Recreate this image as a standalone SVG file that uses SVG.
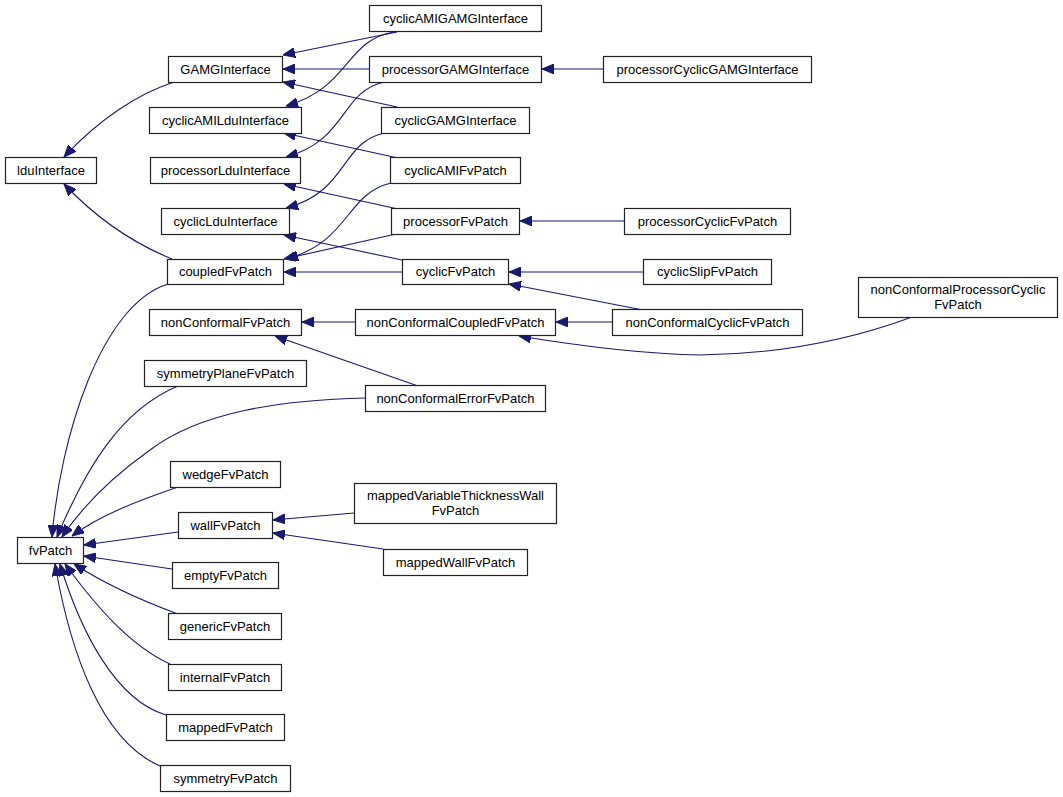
<svg xmlns="http://www.w3.org/2000/svg" width="1063" height="797" viewBox="0 0 1063 797">
<style>
.n rect{fill:#fff;stroke:#222;stroke-width:1.2}
.n text{font-family:"Liberation Sans",Arial,sans-serif;font-size:13px;fill:#000;text-anchor:middle}
.e path{fill:none;stroke:#191970;stroke-width:1.1;marker-end:url(#ah)}
</style>
<defs>
<marker id="ah" viewBox="0 0 12 10" refX="12" refY="5" markerWidth="12" markerHeight="10" markerUnits="userSpaceOnUse" orient="auto">
<path d="M0,0 L12,5 L0,10 z" fill="#191970" stroke="#191970"/>
</marker>
</defs>
<rect width="1063" height="797" fill="#fff"/>
<g id="edges" class="e">
<path d="M174,82 C140,93 100,118 64,157"/>
<path d="M172,259 C140,246 100,222 64,184"/>
<path d="M397,32 L283,55"/>
<path d="M394,32 C345,40 350,88 286,106"/>
<path d="M369,69 L283,69"/>
<path d="M384,82 C340,92 348,140 286,157"/>
<path d="M397,107 L283,82"/>
<path d="M384,133 C340,143 348,192 286,208"/>
<path d="M398,158 L284,133"/>
<path d="M391,183 C345,194 350,242 286,259"/>
<path d="M398,209 L284,184"/>
<path d="M396,234 L284,259"/>
<path d="M402,260 L284,235"/>
<path d="M402,272 L284,272"/>
<path d="M603,69 L542,69"/>
<path d="M624,221 L520,221"/>
<path d="M643,272 L509,272"/>
<path d="M643,310 L509,284"/>
<path d="M612,322 L556,322"/>
<path d="M355,322 L302,322"/>
<path d="M418,386 L275,336"/>
<path d="M365,398 C280,400 200,412 150,450 C105,482 80,510 62,537"/>
<path d="M912,317 C850,340 780,354 700,355 C640,354 580,346 519,336"/>
<path d="M354,513 L273,520"/>
<path d="M383,549 L273,533"/>
<path d="M168,284 C100,305 60,440 52,537"/>
<path d="M178,386 C120,410 85,470 57,537"/>
<path d="M178,487 C140,500 100,515 72,536"/>
<path d="M178,532 L84,545"/>
<path d="M172,569 L84,556"/>
<path d="M178,614 C140,600 105,584 74,564"/>
<path d="M170,664 C130,646 95,605 65,564"/>
<path d="M166,715 C115,700 80,630 60,564"/>
<path d="M160,766 C100,740 70,650 55,564"/>
</g>
<g id="lduInterface" class="n"><rect x="5.5" y="157.5" width="91" height="26"/><text x="51" y="175">lduInterface</text></g>
<g id="GAMGInterface" class="n"><rect x="168.5" y="56.5" width="114" height="26"/><text x="225.5" y="74">GAMGInterface</text></g>
<g id="cyclicAMILduInterface" class="n"><rect x="149.5" y="107.5" width="152" height="26"/><text x="225.5" y="125">cyclicAMILduInterface</text></g>
<g id="processorLduInterface" class="n"><rect x="150.5" y="157.5" width="150" height="26"/><text x="225.5" y="175">processorLduInterface</text></g>
<g id="cyclicLduInterface" class="n"><rect x="161.5" y="208.5" width="128" height="26"/><text x="225.5" y="226">cyclicLduInterface</text></g>
<g id="coupledFvPatch" class="n"><rect x="167.5" y="259.5" width="116" height="25"/><text x="225.5" y="276">coupledFvPatch</text></g>
<g id="nonConformalFvPatch" class="n"><rect x="149.5" y="309.5" width="152" height="26"/><text x="225.5" y="327">nonConformalFvPatch</text></g>
<g id="symmetryPlaneFvPatch" class="n"><rect x="144.5" y="360.5" width="162" height="26"/><text x="225.5" y="378">symmetryPlaneFvPatch</text></g>
<g id="wedgeFvPatch" class="n"><rect x="170.5" y="461.5" width="110" height="26"/><text x="225.5" y="479">wedgeFvPatch</text></g>
<g id="wallFvPatch" class="n"><rect x="178.5" y="512.5" width="94" height="26"/><text x="225.5" y="530">wallFvPatch</text></g>
<g id="fvPatch" class="n"><rect x="17.5" y="537.5" width="66" height="26"/><text x="50.5" y="555">fvPatch</text></g>
<g id="emptyFvPatch" class="n"><rect x="172.5" y="562.5" width="106" height="26"/><text x="225.5" y="580">emptyFvPatch</text></g>
<g id="genericFvPatch" class="n"><rect x="168.5" y="613.5" width="113" height="26"/><text x="225" y="631">genericFvPatch</text></g>
<g id="internalFvPatch" class="n"><rect x="168.5" y="664.5" width="113" height="26"/><text x="225" y="682">internalFvPatch</text></g>
<g id="mappedFvPatch" class="n"><rect x="166.5" y="714.5" width="118" height="26"/><text x="225.5" y="732">mappedFvPatch</text></g>
<g id="symmetryFvPatch" class="n"><rect x="160.5" y="765.5" width="130" height="26"/><text x="225.5" y="783">symmetryFvPatch</text></g>
<g id="cyclicAMIGAMGInterface" class="n"><rect x="369.5" y="5.5" width="172" height="26"/><text x="455.5" y="23">cyclicAMIGAMGInterface</text></g>
<g id="processorGAMGInterface" class="n"><rect x="369.5" y="56.5" width="172" height="26"/><text x="455.5" y="74">processorGAMGInterface</text></g>
<g id="cyclicGAMGInterface" class="n"><rect x="381.5" y="107.5" width="148" height="26"/><text x="455.5" y="125">cyclicGAMGInterface</text></g>
<g id="cyclicAMIFvPatch" class="n"><rect x="390.5" y="157.5" width="130" height="26"/><text x="455.5" y="175">cyclicAMIFvPatch</text></g>
<g id="processorFvPatch" class="n"><rect x="391.5" y="208.5" width="128" height="26"/><text x="455.5" y="226">processorFvPatch</text></g>
<g id="cyclicFvPatch" class="n"><rect x="402.5" y="259.5" width="106" height="25"/><text x="455.5" y="276">cyclicFvPatch</text></g>
<g id="nonConformalCoupledFvPatch" class="n"><rect x="355.5" y="309.5" width="200" height="26"/><text x="455.5" y="327">nonConformalCoupledFvPatch</text></g>
<g id="nonConformalErrorFvPatch" class="n"><rect x="365.5" y="385.5" width="180" height="26"/><text x="455.5" y="403">nonConformalErrorFvPatch</text></g>
<g id="mappedVariableThicknessWallFvPatch" class="n"><rect x="354.5" y="483.5" width="202" height="40"/><text x="455.5" y="500">mappedVariableThicknessWall</text><text x="455.5" y="515">FvPatch</text></g>
<g id="mappedWallFvPatch" class="n"><rect x="383.5" y="549.5" width="144" height="26"/><text x="455.5" y="567">mappedWallFvPatch</text></g>
<g id="processorCyclicGAMGInterface" class="n"><rect x="603.5" y="56.5" width="208" height="26"/><text x="707.5" y="74">processorCyclicGAMGInterface</text></g>
<g id="processorCyclicFvPatch" class="n"><rect x="624.5" y="208.5" width="166" height="26"/><text x="707.5" y="226">processorCyclicFvPatch</text></g>
<g id="cyclicSlipFvPatch" class="n"><rect x="643.5" y="259.5" width="128" height="25"/><text x="707.5" y="276">cyclicSlipFvPatch</text></g>
<g id="nonConformalCyclicFvPatch" class="n"><rect x="612.5" y="309.5" width="190" height="26"/><text x="707.5" y="327">nonConformalCyclicFvPatch</text></g>
<g id="nonConformalProcessorCyclicFvPatch" class="n"><rect x="858.5" y="277.5" width="199" height="40"/><text x="958" y="294">nonConformalProcessorCyclic</text><text x="958" y="309">FvPatch</text></g>
</svg>
